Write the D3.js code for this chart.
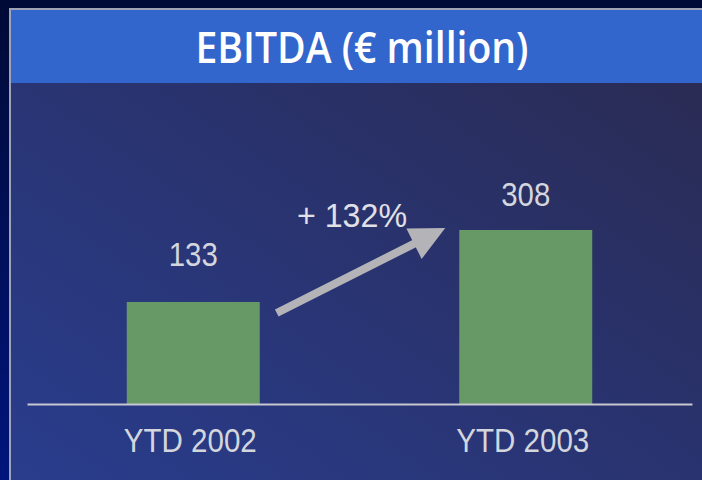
<!DOCTYPE html>
<html>
<head>
<meta charset="utf-8">
<script src="https://cdn.jsdelivr.net/npm/d3@7"></script>
<style>
  html, body { margin: 0; padding: 0; background: #000b3c; }
  svg { display: block; }
</style>
</head>
<body>
<svg></svg>
<script>
/* EBITDA bar chart */
const categories = ["YTD 2002", "YTD 2003"];
const values = [133, 308];
const growthLabel = "+ 132%";
const title = "EBITDA (€ million)";
const yFloor = -115; // chart baseline does not start at zero
const labelGap = [36, 24]; // distance from bar top to value label baseline

const W = 702, H = 480;
const svg = d3.select("svg").attr("width", W).attr("height", H);

const defs = svg.append("defs");
const outer = defs.append("linearGradient").attr("id", "outer")
    .attr("x1", 0).attr("y1", 0).attr("x2", 0).attr("y2", 1);
outer.append("stop").attr("offset", 0).attr("stop-color", "#000a36");
outer.append("stop").attr("offset", 1).attr("stop-color", "#00157c");

const panelGrad = defs.append("linearGradient").attr("id", "panel")
    .attr("x1", 0).attr("y1", 1).attr("x2", 1).attr("y2", 0);
panelGrad.append("stop").attr("offset", 0).attr("stop-color", "#293d8e");
panelGrad.append("stop").attr("offset", 0.55).attr("stop-color", "#29326c");
panelGrad.append("stop").attr("offset", 1).attr("stop-color", "#2a2a4e");

svg.append("rect").attr("width", W).attr("height", H).attr("fill", "url(#outer)");

// panel with light border
svg.append("rect")
    .attr("x", 9).attr("y", 8).attr("width", W).attr("height", H)
    .attr("fill", "url(#panel)");
svg.append("path")
    .attr("d", `M10,${H} V9 H${W}`)
    .attr("fill", "none").attr("stroke", "#9ea3b6").attr("stroke-width", 2);

// title bar
svg.append("rect")
    .attr("x", 11).attr("y", 10).attr("width", W - 11).attr("height", 73)
    .attr("fill", "#3366cc");
svg.append("text")
    .attr("x", 362).attr("y", 63)
    .attr("text-anchor", "middle")
    .attr("font-family", "'Open Sans', 'DejaVu Sans', sans-serif")
    .attr("font-size", 43)
    .attr("font-weight", 600)
    .attr("fill", "#ffffff")
    .attr("textLength", 333)
    .attr("lengthAdjust", "spacingAndGlyphs")
    .text(title);

// scales
const x = d3.scaleBand()
    .domain(categories)
    .range([27, 692])
    .paddingInner(0.6)
    .paddingOuter(0.3);

const y = d3.scaleLinear()
    .domain([yFloor, d3.max(values)])
    .range([404, 230]);

const data = categories.map((c, i) => ({ cat: c, value: values[i], gap: labelGap[i] }));
const labelFont = "'Liberation Sans', Arial, sans-serif";

// bars
svg.selectAll("rect.bar")
    .data(data)
    .enter()
    .append("rect")
    .attr("class", "bar")
    .attr("x", d => x(d.cat))
    .attr("y", d => y(d.value))
    .attr("width", x.bandwidth())
    .attr("height", d => y(yFloor) - y(d.value))
    .attr("fill", "#669966");

// value labels
svg.selectAll("text.val")
    .data(data)
    .enter()
    .append("text")
    .attr("class", "val")
    .attr("x", d => x(d.cat) + x.bandwidth() / 2)
    .attr("y", d => y(d.value) - d.gap)
    .attr("text-anchor", "middle")
    .attr("font-family", labelFont)
    .attr("font-size", 33)
    .attr("fill", "#d4d6de")
    .attr("textLength", 49)
    .attr("lengthAdjust", "spacingAndGlyphs")
    .text(d => d.value);

// baseline axis
const axis = svg.append("g")
    .attr("transform", `translate(0,${y(yFloor)})`)
    .call(d3.axisBottom(x).tickSize(0).tickPadding(24));
axis.select(".domain").attr("stroke", "#c8c8d0").attr("stroke-width", 2);
axis.selectAll("text")
    .attr("font-family", labelFont)
    .attr("font-size", 33)
    .attr("fill", "#d4d6de")
    .attr("dy", 0)
    .attr("x", -3)
    .attr("y", 48)
    .attr("textLength", 133)
    .attr("lengthAdjust", "spacingAndGlyphs");

// growth arrow between the bars
const x0 = x(categories[0]) + x.bandwidth() + 17, y0 = y(values[0]) + 11;
const x1 = x(categories[1]) - 14, y1 = y(values[1]) - 2;
const dx = x1 - x0, dy = y1 - y0, len = Math.hypot(dx, dy);
const ux = dx / len, uy = dy / len;
const headLen = 35, headHalf = 17;
const bx = x1 - ux * headLen, by = y1 - uy * headLen;

svg.append("line")
    .attr("x1", x0).attr("y1", y0)
    .attr("x2", bx + ux * 2).attr("y2", by + uy * 2)
    .attr("stroke", "#b4b4b8").attr("stroke-width", 8);
svg.append("path")
    .attr("d", `M${x1},${y1} L${bx - uy * headHalf},${by + ux * headHalf} L${bx + uy * headHalf},${by - ux * headHalf} Z`)
    .attr("fill", "#b4b4b8");

svg.append("text")
    .attr("x", 352).attr("y", 227)
    .attr("text-anchor", "middle")
    .attr("font-family", labelFont)
    .attr("font-size", 34)
    .attr("fill", "#e0e0e6")
    .attr("textLength", 110)
    .attr("lengthAdjust", "spacingAndGlyphs")
    .text(growthLabel);
</script>
</body>
</html>
